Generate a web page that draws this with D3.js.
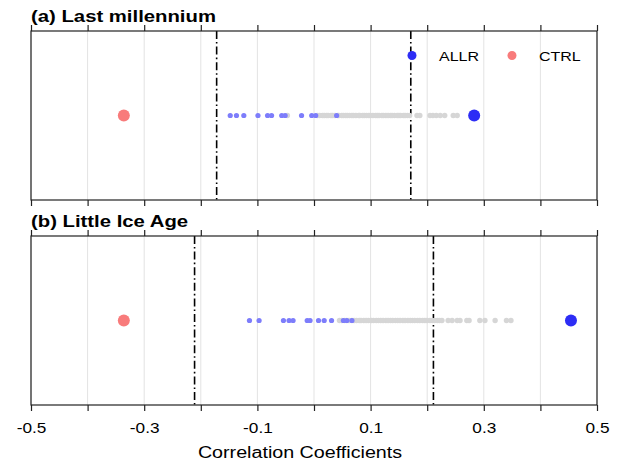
<!DOCTYPE html>
<html>
<head>
<meta charset="utf-8">
<script src="https://cdn.jsdelivr.net/npm/d3@7"></script>
<style>
  body { margin: 0; background: #fff; }
  text { font-family: "Liberation Sans", Arial, Helvetica, sans-serif; fill: #000; }
</style>
</head>
<body>
<script>
// Tick values and labels
const tickVals = [-0.5, -0.4, -0.3, -0.2, -0.1, 0, 0.1, 0.2, 0.3, 0.4, 0.5];
const labelVals = [-0.5, -0.3, -0.1, 0.1, 0.3, 0.5];

// Panel titles and significance thresholds
const panelTitles = ["(a) Last millennium", "(b) Little Ice Age"];
const thresholds = [[-0.172, 0.171], [-0.211, 0.211]];

// Single values: all forcings (ALLR) and control run (CTRL)
const allrValues = [0.283, 0.454];
const ctrlValues = [-0.336, -0.336];

// Member correlations: grey = all members, blue = highlighted members
const lmGrey = [-0.047, 0.006, 0.010, 0.015, 0.018, 0.022, 0.025, 0.030, 0.033, 0.037, 0.042,
  0.044, 0.049, 0.052, 0.056, 0.059, 0.063, 0.067, 0.070, 0.074, 0.079, 0.081, 0.086, 0.089,
  0.093, 0.097, 0.100, 0.104, 0.109, 0.112, 0.115, 0.120, 0.123, 0.127, 0.131, 0.135, 0.138,
  0.142, 0.147, 0.150, 0.153, 0.158, 0.161, 0.165, 0.169, 0.182, 0.187, 0.205, 0.210, 0.216,
  0.223, 0.231, 0.246, 0.253];
const lmBlue = [-0.148, -0.137, -0.124, -0.099, -0.082, -0.075, -0.057, -0.051, -0.022,
  -0.004, 0.003, 0.040];

const liaGrey = [0.045, 0.049, 0.054, 0.058, 0.062, 0.067, 0.071, 0.075, 0.080, 0.083, 0.088,
  0.092, 0.096, 0.101, 0.105, 0.110, 0.114, 0.118, 0.122, 0.127, 0.131, 0.135, 0.139, 0.144,
  0.148, 0.152, 0.157, 0.161, 0.166, 0.170, 0.174, 0.178, 0.183, 0.187, 0.192, 0.196, 0.200,
  0.205, 0.209, 0.213, 0.218, 0.222, 0.226, 0.237, 0.244, 0.253, 0.258, 0.270, 0.274, 0.293,
  0.302, 0.320, 0.340, 0.348];
const liaBlue = [-0.114, -0.097, -0.054, -0.044, -0.037, -0.012, -0.007, 0.008, 0.018, 0.031,
  0.052, 0.058, 0.067];

const greyLists = [lmGrey, liaGrey];
const blueLists = [lmBlue, liaBlue];

const w = 618;
const h = 463;
const stretchK = 1.23; // reference text is horizontally stretched

const colAllr = "#2d2df5";
const colCtrl = "#f87b7b";
const colBlue = "#7d7dfb";
const colGrey = "#d6d6d6";

const panels = [{top: 31, bottom: 200}, {top: 236, bottom: 405}];

const x = d3.scaleLinear().domain([-0.5, 0.5]).range([31, 597]);

const svg = d3.select("body").append("svg")
              .attr("width", w)
              .attr("height", h);

svg.append("rect").attr("width", w).attr("height", h).attr("fill", "#fff");

function stretch(sel) {
    sel.each(function() {
        const len = this.getComputedTextLength();
        d3.select(this).attr("textLength", len * stretchK).attr("lengthAdjust", "spacingAndGlyphs");
    });
}

const fmt = d => d3.format(".1f")(d).replace("\u2212", "-");

panels.forEach((p, i) => {
    const g = svg.append("g").attr("class", "panel");
    const yMid = (p.top + p.bottom) / 2;

    // grid
    g.selectAll("line.grid")
     .data(tickVals)
     .enter().append("line")
     .attr("class", "grid")
     .attr("x1", d => x(d)).attr("x2", d => x(d))
     .attr("y1", p.top).attr("y2", p.bottom)
     .attr("stroke", "#e3e3e3")
     .attr("stroke-width", 1);

    // threshold lines
    g.selectAll("line.thr")
     .data(thresholds[i])
     .enter().append("line")
     .attr("class", "thr")
     .attr("x1", d => x(d)).attr("x2", d => x(d))
     .attr("y1", p.top).attr("y2", p.bottom)
     .attr("stroke", "#000")
     .attr("stroke-width", 1.6)
     .attr("stroke-dasharray", "8,3,1.6,3");

    // member dots
    g.selectAll("circle.grey")
     .data(greyLists[i])
     .enter().append("circle")
     .attr("class", "grey")
     .attr("cx", d => x(d)).attr("cy", yMid)
     .attr("r", 2.7)
     .attr("fill", colGrey);

    g.selectAll("circle.blue")
     .data(blueLists[i])
     .enter().append("circle")
     .attr("class", "blue")
     .attr("cx", d => x(d)).attr("cy", yMid)
     .attr("r", 2.6)
     .attr("fill", colBlue);

    g.append("circle")
     .attr("cx", x(ctrlValues[i])).attr("cy", yMid)
     .attr("r", 6).attr("fill", colCtrl);

    g.append("circle")
     .attr("cx", x(allrValues[i])).attr("cy", yMid)
     .attr("r", 6).attr("fill", colAllr);

    // axes (ticks outward on top and bottom)
    const topAxis = d3.axisTop(x).tickValues(tickVals).tickSize(6).tickFormat("");
    const botAxis = d3.axisBottom(x).tickValues(tickVals).tickSize(6).tickPadding(12)
                      .tickFormat(d => labelVals.some(v => Math.abs(v - d) < 1e-9) ? fmt(d) : "");

    const ta = g.append("g").attr("transform", `translate(0, ${p.top})`).call(topAxis);
    const ba = g.append("g").attr("transform", `translate(0, ${p.bottom})`)
                .call(i === 1 ? botAxis : botAxis.tickFormat(""));
    [ta, ba].forEach(a => {
        a.select(".domain").remove();
        a.selectAll(".tick line").attr("stroke", "#222").attr("stroke-width", 1.2);
    });
    if (i === 1) {
        ba.selectAll(".tick text")
          .attr("font-size", 14)
          .style("font-family", "'Liberation Sans', Arial, sans-serif")
          .attr("fill", "#000")
          .call(stretch);
    }

    // frame
    g.append("rect")
     .attr("x", x(-0.5)).attr("y", p.top)
     .attr("width", x(0.5) - x(-0.5)).attr("height", p.bottom - p.top)
     .attr("fill", "none")
     .attr("stroke", "#222")
     .attr("stroke-width", 1.2);

    // title
    g.append("text")
     .attr("x", 31).attr("y", p.top - 9)
     .attr("font-size", 16.5)
     .attr("font-weight", "bold")
     .text(panelTitles[i])
     .call(stretch);
});

// legend in panel (a)
const legend = svg.append("g").attr("class", "legend");
const legendItems = [{name: "ALLR", color: colAllr, cx: 412}, {name: "CTRL", color: colCtrl, cx: 512}];
legendItems.forEach(it => {
    legend.append("circle").attr("cx", it.cx).attr("cy", 55.5).attr("r", 4.5).attr("fill", it.color);
    legend.append("text")
          .attr("x", it.cx + 27).attr("y", 60.5)
          .attr("font-size", 13)
          .text(it.name)
          .call(stretch);
});

// x-axis label
svg.append("text")
   .attr("x", 300).attr("y", 458)
   .attr("text-anchor", "middle")
   .attr("font-size", 16)
   .text("Correlation Coefficients")
   .call(stretch);
</script>
</body>
</html>
